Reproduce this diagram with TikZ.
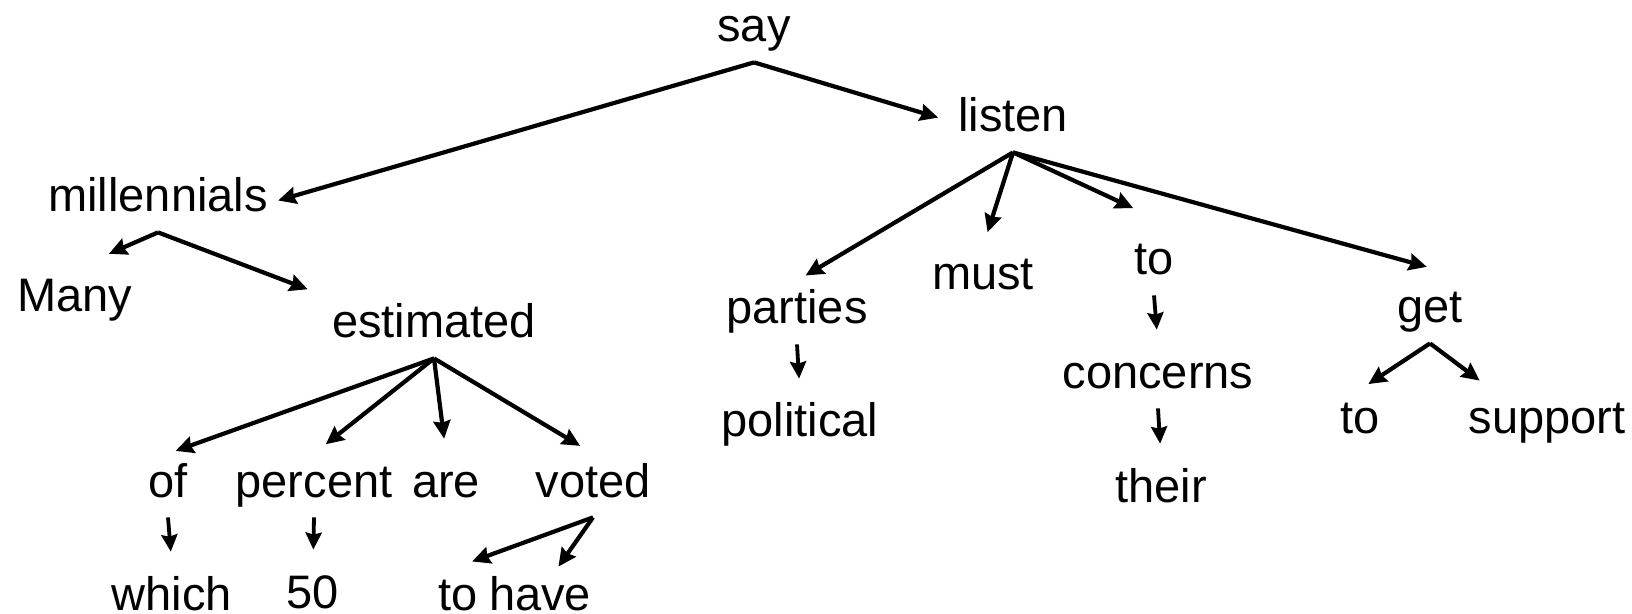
\documentclass[tikz,border=0pt]{standalone}
\usepackage{fontspec}
\setmainfont{Liberation Sans}
\usetikzlibrary{arrows.meta}

\tikzset{
  word/.style={anchor=base, inner sep=5pt, text height=16.5pt, text depth=5pt,
    font=\fontsize{23.5}{28}\selectfont},
  dep/.style={line width=2.1pt, -{Stealth[length=9pt,width=8.5pt,inset=1pt]},
    shorten >=7.5pt},
  shortdep/.style={dep, line width=1.9pt, -{Stealth[length=8.5pt,width=8pt,inset=1pt]}},
}

\begin{document}
\begin{tikzpicture}[x=0.5pt, y=-0.5pt]
\useasboundingbox (0,0) rectangle (1632,614);

%% Wurzel und erste Ebene
\node[word] (say) at (754,42) {say};
\node[word] (listen) at (1013,132) {listen};
\node[word] (millennials) at (158,212) {millennials};

%% linker Teilbaum
\begin{scope}
	\node[word] (many) at (75,312) {Many};
	\node[word] (estimated) at (434,338) {estimated};
	\node[word] (of) at (168,497) {of};
	\node[word] (percent) at (314,497) {percent};
	\node[word] (are) at (446,497) {are};
	\node[word] (voted) at (593,497) {voted};
	\node[word] (which) at (172,610) {which};
	\node[word] (fifty) at (313,608) {50};
	\node[word] (toB) at (458,610) {to};
	\node[word] (have) at (540,610) {have};
\end{scope}

%% rechter Teilbaum
\begin{scope}
	\node[word] (parties) at (797,324) {parties};
	\node[word] (must) at (983,290) {must};
	\node[word] (toA) at (1154,275) {to};
	\node[word] (get) at (1430,323) {get};
	\node[word] (political) at (800,437) {political};
	\node[word] (concerns) at (1158,388) {concerns};
	\node[word] (their) at (1161,502) {their};
	\node[word] (toC) at (1360,433) {to};
	\node[word] (support) at (1547,433) {support};
\end{scope}
%%%%%%%%%%%%%%%%

%% Kanten
\draw[dep, shorten >=0pt] (say.south) -- (millennials.east);
\draw[dep, shorten >=5pt] (say.south) -- (listen.west);

\draw[dep, shorten >=18.5pt] (millennials.south) -- (many.north);
\draw[dep] (millennials.south) -- (estimated.north west);
\draw[dep, shorten >=4pt] (estimated.south) -- (of.north);
\draw[dep] (estimated.south) -- (percent.north);
\draw[dep] (estimated.south) -- (are.north);
\draw[dep] (estimated.south) -- (voted.north);
\draw[shortdep] (of.south) -- (which.north);
\draw[shortdep] (percent.south) -- (fifty.north);
\draw[dep] (voted.south) -- (toB.north);
\draw[dep, shorten >=0pt] (voted.south) -- (have.60);

\draw[dep, shorten >=5pt] (listen.south) -- (parties.north);
\draw[dep] (listen.south) -- (must.north);
\draw[dep, shorten >=28pt] (listen.south) -- (toA.north east);
\draw[dep, shorten >=24pt] (listen.south) -- (get.north east);
\draw[shortdep] (parties.south) -- (political.north);
\draw[shortdep] (toA.south) -- (concerns.north);
\draw[shortdep] (concerns.south) -- (their.north);
\draw[dep, shorten >=5pt] (get.south) -- (toC.north);
\draw[dep] (get.south) -- (support.150);

%\draw (current bounding box.south west) rectangle (current bounding box.north east);
\end{tikzpicture}
\end{document}
